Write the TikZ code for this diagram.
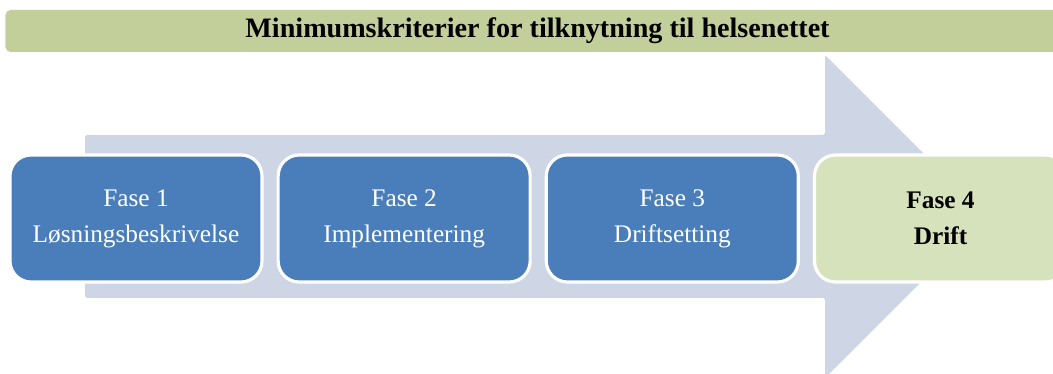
\documentclass[tikz,border=0pt]{standalone}
\usepackage{fontspec}
\setmainfont{Liberation Serif}
\usepackage{xcolor}
\usetikzlibrary{positioning}

\definecolor{titlegreen}{HTML}{C3CF9B}
\definecolor{phaseblue}{HTML}{4A7EBB}
\definecolor{phasegreen}{HTML}{D5E2BC}
\definecolor{arrowgrey}{HTML}{CED6E6}

\begin{document}
\begin{tikzpicture}[node distance=0.26cm,
    phase/.style={draw=white, line width=1.8pt, rounded corners=0.42cm, minimum width=5.04cm, minimum height=2.54cm, align=center, font=\fontsize{14.4}{20.5}\selectfont, text=white, fill=phaseblue}]
    \useasboundingbox (0,0) rectangle (21.06,7.48);
    \clip (0,0) rectangle (21.06,7.48);

    % Big arrow behind the phases
    \fill[arrowgrey, rounded corners=1pt] (1.7,4.78) -- (16.5,4.78) -- (16.5,6.38) -- (19.73,3.15) -- (16.5,-0.08) -- (16.5,1.52) -- (1.7,1.52) -- cycle;

    % Title bar
    \node (title) [fill=titlegreen, rounded corners=3pt, minimum width=21.2cm, minimum height=0.84cm, anchor=west, inner sep=0pt] at (0.1,6.86) {};
    \node at (10.75,6.86) {\fontsize{16}{18}\selectfont\bfseries Minimumskriterier for tilknytning til helsenettet};

    % Phases
    \node (f1) [phase] at (2.72,3.11) {Fase 1\\Løsningsbeskrivelse};
    \node (f2) [phase, right=of f1] {Fase 2\\Implementering};
    \node (f3) [phase, right=of f2] {Fase 3\\Driftsetting};
    \node (f4) [phase, right=of f3, fill=phasegreen, text=black, font=\fontsize{14.4}{20.5}\selectfont\bfseries] {Fase 4\\Drift};
\end{tikzpicture}
\end{document}
